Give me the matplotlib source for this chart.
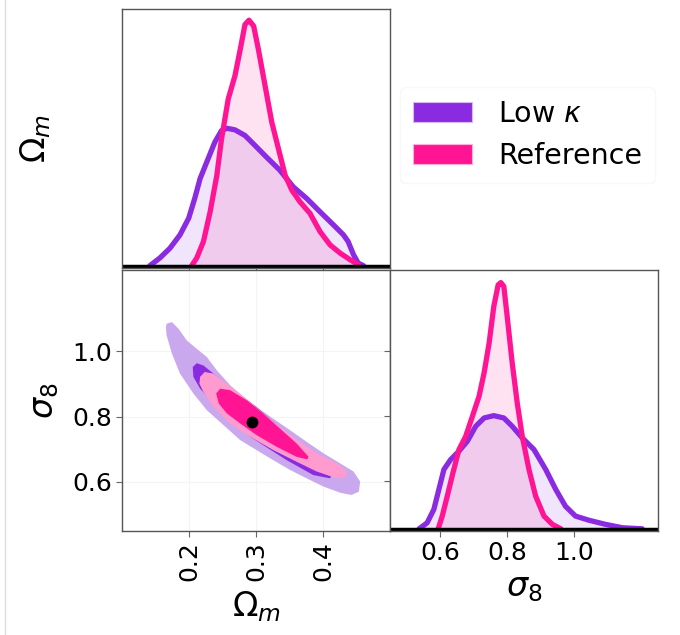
import matplotlib
matplotlib.use("Agg")
import matplotlib.pyplot as plt
from matplotlib.patches import Patch
from matplotlib.lines import Line2D

# colours
low_col = '#8A2BE2'
ref_col = '#FF1493'
low_light = '#C9A8EE'
ref_light = '#FF9BCF'

# 1D marginal of Omega_m (relative density)
om_low_x = [0.141, 0.156, 0.171, 0.186, 0.199, 0.208, 0.216, 0.226, 0.238, 0.248, 0.256, 0.268, 0.283,
            0.298, 0.315, 0.335, 0.355, 0.375, 0.395, 0.415, 0.430, 0.437, 0.445, 0.452, 0.460]
om_low_y = [0.0, 0.03, 0.068, 0.12, 0.185, 0.262, 0.339, 0.404, 0.481, 0.526, 0.535, 0.529, 0.507,
            0.468, 0.423, 0.372, 0.307, 0.262, 0.21, 0.159, 0.12, 0.094, 0.043, 0.01, 0.0]
om_ref_x = [0.2035, 0.211, 0.221, 0.231, 0.241, 0.248, 0.258, 0.268, 0.276, 0.283, 0.289, 0.296, 0.303,
            0.313, 0.323, 0.333, 0.343, 0.353, 0.365, 0.380, 0.395, 0.410, 0.425, 0.440, 0.452]
om_ref_y = [0.0, 0.03, 0.094, 0.21, 0.352, 0.494, 0.649, 0.739, 0.843, 0.939, 0.956, 0.933, 0.843,
            0.701, 0.559, 0.455, 0.352, 0.294, 0.249, 0.204, 0.133, 0.081, 0.049, 0.023, 0.004]

# 1D marginal of sigma_8
s8_low_x = [0.537, 0.561, 0.581, 0.596, 0.611, 0.631, 0.656, 0.681, 0.706, 0.731, 0.760, 0.790, 0.815,
            0.845, 0.880, 0.915, 0.945, 0.974, 1.004, 1.044, 1.094, 1.144, 1.203]
s8_low_y = [0.0, 0.023, 0.075, 0.152, 0.229, 0.267, 0.3, 0.338, 0.396, 0.428, 0.437, 0.428, 0.396,
            0.351, 0.306, 0.229, 0.152, 0.087, 0.049, 0.033, 0.017, 0.004, 0.0]
s8_ref_x = [0.594, 0.606, 0.621, 0.638, 0.656, 0.676, 0.696, 0.716, 0.731, 0.746, 0.760, 0.773, 0.781,
            0.790, 0.800, 0.815, 0.830, 0.845, 0.865, 0.885, 0.910, 0.935, 0.960]
s8_ref_y = [0.0, 0.049, 0.126, 0.216, 0.306, 0.357, 0.434, 0.512, 0.602, 0.717, 0.859, 0.942, 0.951,
            0.936, 0.82, 0.64, 0.486, 0.357, 0.229, 0.126, 0.049, 0.017, 0.0]

# 2D contours (Omega_m, sigma_8)
low_2s_x = [0.166, 0.174, 0.184, 0.196, 0.211, 0.226, 0.241, 0.261, 0.281, 0.300, 0.325, 0.350, 0.375,
            0.400, 0.425, 0.445, 0.455, 0.453, 0.442, 0.425, 0.400, 0.375, 0.350, 0.325, 0.300, 0.276,
            0.251, 0.226, 0.206, 0.186, 0.174, 0.166, 0.165]
low_2s_y = [1.085, 1.09, 1.069, 1.034, 1.008, 0.983, 0.942, 0.896, 0.861, 0.83, 0.794, 0.759, 0.723,
            0.688, 0.657, 0.632, 0.601, 0.57, 0.56, 0.567, 0.586, 0.611, 0.637, 0.667, 0.698, 0.728,
            0.774, 0.82, 0.871, 0.932, 0.993, 1.049, 1.074]
low_1s_x = [0.205, 0.211, 0.221, 0.236, 0.266, 0.300, 0.340, 0.375, 0.405, 0.415, 0.410, 0.385, 0.345,
            0.291, 0.246, 0.216, 0.206]
low_1s_y = [0.952, 0.964, 0.957, 0.932, 0.881, 0.83, 0.759, 0.698, 0.652, 0.632, 0.611, 0.621, 0.667,
            0.738, 0.82, 0.886, 0.922]
ref_2s_x = [0.216, 0.223, 0.236, 0.256, 0.281, 0.305, 0.335, 0.365, 0.395, 0.420, 0.435, 0.434, 0.420,
            0.390, 0.360, 0.325, 0.291, 0.261, 0.236, 0.221, 0.215]
ref_2s_y = [0.922, 0.937, 0.932, 0.901, 0.861, 0.82, 0.769, 0.723, 0.682, 0.657, 0.632, 0.616, 0.611,
            0.632, 0.662, 0.698, 0.738, 0.779, 0.83, 0.876, 0.901]
ref_1s_x = [0.240, 0.246, 0.261, 0.286, 0.310, 0.335, 0.360, 0.378, 0.376, 0.360, 0.330, 0.300, 0.276,
            0.256, 0.244]
ref_1s_y = [0.871, 0.886, 0.881, 0.85, 0.81, 0.764, 0.718, 0.677, 0.669, 0.677, 0.708, 0.744, 0.779,
            0.81, 0.84]
truth = (0.293, 0.784)

om_lim = (0.1, 0.5)
s8_lim = (0.45, 1.25)

fig = plt.figure(figsize=(6.8, 6.35), dpi=100)
ax1 = fig.add_axes([0.180, 0.578, 0.394, 0.408])
ax2 = fig.add_axes([0.180, 0.164, 0.394, 0.411])
ax3 = fig.add_axes([0.5735, 0.164, 0.394, 0.411])

for ax in (ax1, ax2, ax3):
    for s in ax.spines.values():
        s.set_color('#555555')
        s.set_linewidth(1.0)
    ax.tick_params(colors='#666666', labelcolor='black', labelsize=18, length=4, width=0.8)
ax2.grid(True, color='#f4f4f4', lw=0.8)
ax2.set_axisbelow(True)

# top-left: Omega_m marginal
ax1.fill_between(om_low_x, om_low_y, color=low_col, alpha=0.12, lw=0)
ax1.fill_between(om_ref_x, om_ref_y, color=ref_col, alpha=0.12, lw=0)
ax1.plot(om_low_x, om_low_y, color=low_col, lw=3.8, solid_joinstyle='round', solid_capstyle='round')
ax1.plot(om_ref_x, om_ref_y, color=ref_col, lw=3.8, solid_joinstyle='round', solid_capstyle='round')
ax1.axhline(0, color='black', lw=2.5)
ax1.set_xlim(om_lim)
ax1.set_ylim(-0.009, 1.0)
ax1.set_xticks([0.2, 0.3, 0.4])
ax1.set_xticklabels([])
ax1.set_yticks([])
ax1.set_ylabel(r'$\Omega_m$', fontsize=24, labelpad=50)

# bottom-left: 2D contours
ax2.fill(low_2s_x, low_2s_y, color=low_light, lw=0)
ax2.fill(low_1s_x, low_1s_y, color=low_col, lw=0)
ax2.fill(ref_2s_x, ref_2s_y, color=ref_light, lw=0)
ax2.fill(ref_1s_x, ref_1s_y, color=ref_col, lw=0)
ax2.plot(*truth, 'o', color='black', ms=7.5)
ax2.set_xlim(om_lim)
ax2.set_ylim(s8_lim)
ax2.set_xticks([0.2, 0.3, 0.4])
ax2.set_yticks([0.6, 0.8, 1.0])
ax2.set_yticklabels(['0.6', '0.8', '1.0'])
ax2.tick_params(axis='x', labelrotation=90)
ax2.set_xlabel(r'$\Omega_m$', fontsize=24, labelpad=6)
ax2.set_ylabel(r'$\sigma_8$', fontsize=24, labelpad=8)

# bottom-right: sigma_8 marginal
ax3.fill_between(s8_low_x, s8_low_y, color=low_col, alpha=0.12, lw=0)
ax3.fill_between(s8_ref_x, s8_ref_y, color=ref_col, alpha=0.12, lw=0)
ax3.plot(s8_low_x, s8_low_y, color=low_col, lw=3.8, solid_joinstyle='round', solid_capstyle='round')
ax3.plot(s8_ref_x, s8_ref_y, color=ref_col, lw=3.8, solid_joinstyle='round', solid_capstyle='round')
ax3.axhline(0, color='black', lw=2.5)
ax3.set_xlim(s8_lim)
ax3.set_ylim(-0.008, 1.0)
ax3.set_xticks([0.6, 0.8, 1.0])
ax3.set_xticklabels(['0.6', '0.8', '1.0'])
ax3.set_yticks([0.185, 0.435, 0.685])
ax3.set_yticklabels([])
ax3.set_xlabel(r'$\sigma_8$', fontsize=24)

handles = [Patch(facecolor=low_col, edgecolor='#d9b8f5', lw=0.8, label=r'Low $\kappa$'),
           Patch(facecolor=ref_col, edgecolor='#ffb0d8', lw=0.8, label='Reference')]
fig.legend(handles=handles, loc='upper left', bbox_to_anchor=(0.588, 0.863), borderaxespad=0,
           fontsize=20.5, frameon=True, framealpha=1, edgecolor='#f8f8f8', handlelength=2.1,
           handleheight=0.72, handletextpad=0.9, labelspacing=0.5, borderpad=0.45)

fig.add_artist(Line2D([0.008, 0.008], [0, 1], color='#dddddd', lw=1))

fig.savefig('out.png', dpi=100)
